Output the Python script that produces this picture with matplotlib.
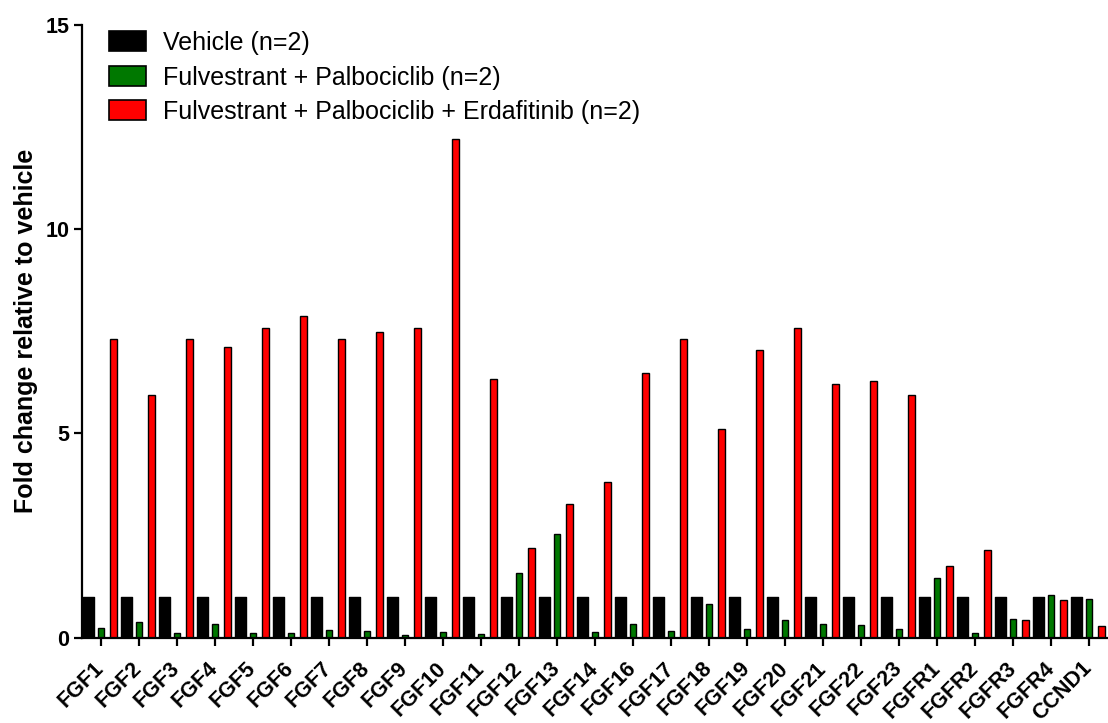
import numpy as np
import matplotlib
matplotlib.use("Agg")
import matplotlib.pyplot as plt

plt.rcParams['font.family'] = ['Liberation Sans', 'DejaVu Sans']

genes = ["FGF1", "FGF2", "FGF3", "FGF4", "FGF5", "FGF6", "FGF7", "FGF8", "FGF9",
         "FGF10", "FGF11", "FGF12", "FGF13", "FGF14", "FGF16", "FGF17", "FGF18",
         "FGF19", "FGF20", "FGF21", "FGF22", "FGF23", "FGFR1", "FGFR2", "FGFR3",
         "FGFR4", "CCND1"]

vehicle = [1.0] * len(genes)
fulv_palbo = [0.23, 0.39, 0.12, 0.34, 0.11, 0.12, 0.18, 0.16, 0.07,
              0.13, 0.08, 1.57, 2.54, 0.14, 0.34, 0.16, 0.82,
              0.20, 0.43, 0.34, 0.30, 0.21, 1.45, 0.10, 0.45,
              1.03, 0.94]
fulv_palbo_erda = [7.31, 5.94, 7.31, 7.12, 7.59, 7.88, 7.31, 7.49, 7.59,
                   12.21, 6.34, 2.20, 3.28, 3.80, 6.48, 7.31, 5.10,
                   7.04, 7.59, 6.20, 6.27, 5.94, 1.74, 2.15, 0.43,
                   0.92, 0.28]

labels = ["Vehicle (n=2)",
          "Fulvestrant + Palbociclib (n=2)",
          "Fulvestrant + Palbociclib + Erdafitinib (n=2)"]

W, H = 1108, 723
fig = plt.figure(figsize=(W / 100, H / 100), dpi=100)
ax = fig.add_axes([82 / W, 1 - 637.5 / H, 1026 / W, 612.5 / H])

x = np.arange(len(genes))
ax.bar(x - 0.32, vehicle, width=0.29, color="black", edgecolor="black",
       linewidth=1.0, joinstyle="round", label=labels[0])
ax.bar(x, fulv_palbo, width=0.17, color="#007800", edgecolor="black",
       linewidth=1.0, label=labels[1])
ax.bar(x + 0.33, fulv_palbo_erda, width=0.18, color="#ff0000", edgecolor="black",
       linewidth=1.0, label=labels[2])

ax.set_xlim(-0.5, len(genes) - 0.5)
ax.set_ylim(0, 15)
ax.set_yticks([0, 5, 10, 15])
ax.set_xticks(x)
ax.set_xticklabels(genes)

for side in ["top", "right"]:
    ax.spines[side].set_visible(False)
for side in ["left", "bottom"]:
    ax.spines[side].set_linewidth(1.6)

ax.tick_params(axis="both", width=1.6, length=6, labelsize=15.5)
ax.tick_params(axis="y", pad=3)
ax.tick_params(axis="x", pad=14)
for lbl in ax.get_yticklabels():
    lbl.set_fontweight("bold")
for lbl in ax.get_xticklabels():
    lbl.set_fontweight("bold")
    lbl.set_rotation(45)
    lbl.set_ha("right")
    lbl.set_va("center")
    lbl.set_rotation_mode("anchor")

ax.set_ylabel("Fold change relative to vehicle", fontsize=18, fontweight="bold")
ax.yaxis.set_label_coords(-0.043, 0.5)

leg = ax.legend(loc="upper left", bbox_to_anchor=(109 / W, 1 - 31 / H),
                bbox_transform=fig.transFigure, frameon=False, fontsize=18,
                handlelength=1.48, handleheight=0.84, handletextpad=0.68,
                labelspacing=0.42, borderpad=0, borderaxespad=0)
for patch in leg.get_patches():
    patch.set_linewidth(1.2)

fig.savefig("out.png", dpi=100)
